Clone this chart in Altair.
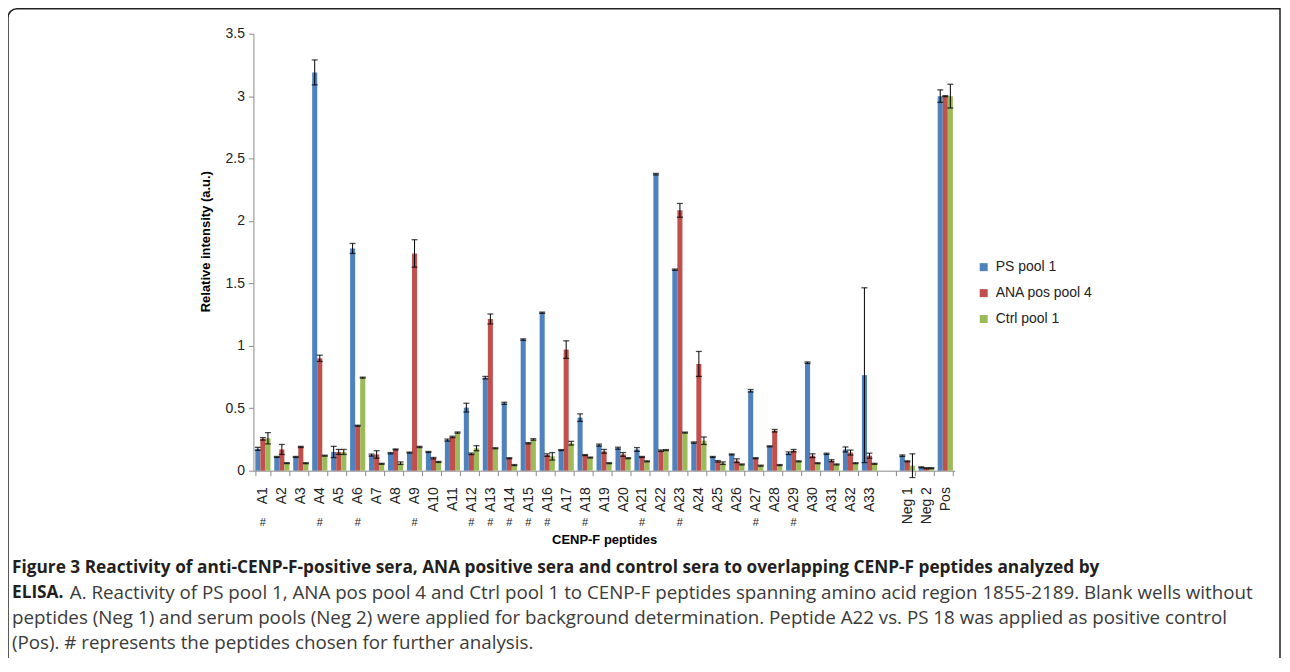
import altair as alt
import pandas as pd

# ---------------- data ----------------
cats = [f"A{i}" for i in range(1, 34)] + ["Neg 1", "Neg 2", "Pos"]
gap_label = " "
domain = cats[:33] + [gap_label] + cats[33:]

series_names = ["PS pool 1", "ANA pos pool 4", "Ctrl pool 1"]
series_colors = ["#4F81BD", "#C0504D", "#9BBB59"]

ps = [0.175, 0.11, 0.11, 3.19, 0.15, 1.78, 0.125, 0.14, 0.145, 0.15, 0.245, 0.505,
      0.745, 0.54, 1.05, 1.265, 0.165, 0.425, 0.205, 0.18, 0.17, 2.375, 1.61, 0.225,
      0.11, 0.13, 0.64, 0.195, 0.14, 0.865, 0.135, 0.17, 0.765, 0.12, 0.027, 3.0]
ps_err = [0.012, 0.004, 0.004, 0.1, 0.045, 0.04, 0.008, 0.005, 0.004, 0.004, 0.008, 0.035,
          0.01, 0.008, 0.006, 0.005, 0.004, 0.03, 0.008, 0.008, 0.015, 0.006, 0.005, 0.005,
          0.004, 0.004, 0.01, 0.004, 0.01, 0.006, 0.005, 0.02, 0.7, 0.006, 0.004, 0.05]

ana = [0.255, 0.17, 0.19, 0.90, 0.15, 0.36, 0.13, 0.17, 1.74, 0.10, 0.27, 0.135,
       1.215, 0.10, 0.22, 0.125, 0.97, 0.125, 0.155, 0.13, 0.11, 0.16, 2.085, 0.855,
       0.075, 0.08, 0.10, 0.32, 0.16, 0.12, 0.08, 0.145, 0.12, 0.075, 0.02, 3.0]
ana_err = [0.01, 0.04, 0.005, 0.025, 0.02, 0.004, 0.03, 0.004, 0.11, 0.006, 0.006, 0.006,
           0.04, 0.004, 0.005, 0.01, 0.07, 0.004, 0.015, 0.015, 0.004, 0.006, 0.055, 0.1,
           0.006, 0.015, 0.004, 0.01, 0.01, 0.015, 0.008, 0.02, 0.02, 0.004, 0.004, 0.004]

ctrl = [0.26, 0.06, 0.06, 0.12, 0.15, 0.745, 0.055, 0.06, 0.19, 0.07, 0.305, 0.18,
        0.18, 0.045, 0.25, 0.115, 0.22, 0.105, 0.06, 0.10, 0.075, 0.165, 0.305, 0.24,
        0.06, 0.05, 0.04, 0.045, 0.075, 0.06, 0.05, 0.06, 0.055, 0.04, 0.02, 3.0]
ctrl_err = [0.045, 0.004, 0.004, 0.004, 0.02, 0.004, 0.004, 0.01, 0.005, 0.004, 0.005, 0.02,
            0.004, 0.004, 0.006, 0.03, 0.015, 0.004, 0.004, 0.004, 0.004, 0.004, 0.004, 0.03,
            0.01, 0.004, 0.004, 0.004, 0.004, 0.004, 0.004, 0.004, 0.004, 0.095, 0.004, 0.095]

hash_cats = ["A1", "A4", "A6", "A9", "A12", "A13", "A14", "A15", "A16", "A18",
             "A21", "A23", "A27", "A29"]

caption_l1 = ("Figure 3 Reactivity of anti-CENP-F-positive sera, ANA positive sera and control "
              "sera to overlapping CENP-F peptides analyzed by")
caption_l2a = "ELISA."
caption_l2b = ("A. Reactivity of PS pool 1, ANA pos pool 4 and Ctrl pool 1 to CENP-F peptides "
               "spanning amino acid region 1855-2189. Blank wells without")
caption_l3 = ("peptides (Neg 1) and serum pools (Neg 2) were applied for background "
              "determination. Peptide A22 vs. PS 18 was applied as positive control")
caption_l4 = "(Pos). # represents the peptides chosen for further analysis."

# ---------------- table ----------------
rows = []
for name, vals, errs in zip(series_names, [ps, ana, ctrl], [ps_err, ana_err, ctrl_err]):
    for c, v, e in zip(cats, vals, errs):
        rows.append({"cat": c, "series": name, "value": v, "lo": v - e, "hi": v + e})
df = pd.DataFrame(rows)
hash_df = pd.DataFrame({"cat": hash_cats, "mark": ["#"] * len(hash_cats)})

W, H = 703, 438
FONT = "Liberation Sans"
CAP_FONT = "Open Sans"
AX_GRAY = "#8c8c8c"

x_scale = alt.Scale(domain=domain, paddingInner=0.2, paddingOuter=0.1)
y_scale = alt.Scale(domain=[0, 3.5], nice=False, zero=True)

x_enc = alt.X(
    "cat:N", scale=x_scale, sort=domain,
    axis=alt.Axis(labelAngle=-90, tickBand="extent", tickSize=5, labelPadding=11,
                  labelFont=FONT, labelFontSize=14, labelColor="#222",
                  domainColor=AX_GRAY, tickColor=AX_GRAY,
                  title="CENP-F peptides", titleFont=FONT, titleFontSize=13,
                  titleFontWeight="bold", titleColor="#000", titleY=69,
                  titleBaseline="middle"))
y_enc = alt.Y(
    "value:Q", scale=y_scale,
    axis=alt.Axis(values=[0, 0.5, 1, 1.5, 2, 2.5, 3, 3.5], format="~g", grid=False,
                  tickSize=5, labelPadding=4, labelFont=FONT, labelFontSize=14,
                  labelColor="#222", domainColor=AX_GRAY, tickColor=AX_GRAY,
                  title="Relative intensity (a.u.)", titleFont=FONT, titleFontSize=13,
                  titleFontWeight="bold", titleColor="#000", titleX=-48, titleY=208,
                  titleBaseline="middle", titleAlign="center"))
xoff = alt.XOffset("series:N", sort=series_names,
                   scale=alt.Scale(paddingInner=0, paddingOuter=0))
color = alt.Color("series:N", sort=series_names,
                  scale=alt.Scale(domain=series_names, range=series_colors),
                  legend=alt.Legend(title=None, orient="none", legendX=725, legendY=227,
                                    symbolType="square", symbolSize=64,
                                    symbolStrokeWidth=0, labelFont=FONT,
                                    labelFontSize=14, labelColor="#222",
                                    rowPadding=12, labelOffset=5))

base = alt.Chart(df)
bars = base.mark_bar().encode(x=x_enc, xOffset=xoff, y=y_enc, color=color)
err_rule = base.mark_rule(color="black", strokeWidth=1).encode(
    x=alt.X("cat:N", scale=x_scale, sort=domain), xOffset=xoff,
    y=alt.Y("lo:Q", scale=y_scale), y2="hi:Q")
cap_lo = base.mark_tick(color="black", thickness=1.3, size=6).encode(
    x=alt.X("cat:N", scale=x_scale, sort=domain), xOffset=xoff,
    y=alt.Y("lo:Q", scale=y_scale))
cap_hi = base.mark_tick(color="black", thickness=1.3, size=6).encode(
    x=alt.X("cat:N", scale=x_scale, sort=domain), xOffset=xoff,
    y=alt.Y("hi:Q", scale=y_scale))

hashes = alt.Chart(hash_df).mark_text(font=FONT, fontSize=11, color="#222",
                                      baseline="middle").encode(
    x=alt.X("cat:N", scale=x_scale, sort=domain), y=alt.value(490), text="mark:N")

one = alt.Data(values=[{}])


def txt(s, x, y, bold=False, color="#231f20", size=19):
    return alt.Chart(one).mark_text(
        font=CAP_FONT, fontSize=size, fontWeight="bold" if bold else "normal",
        align="left", baseline="middle", color=color).encode(
        x=alt.value(x), y=alt.value(y), text=alt.value(s))


cap1 = txt(caption_l1, -242, 536, bold=True, size=17.3)
cap2a = txt(caption_l2a, -242, 561, bold=True, size=17.3)
cap2b = txt(caption_l2b, -184, 561, color="#3a3a3a", size=18.8)
cap3 = txt(caption_l3, -242, 586, color="#3a3a3a", size=18.8)
cap4 = txt(caption_l4, -242, 611, color="#3a3a3a", size=18.8)

frame = alt.Chart(one).mark_rect(fill=None, stroke="#222", strokeWidth=1.5,
                                 cornerRadiusTopLeft=9, cornerRadiusBottomLeft=9,
                                 cornerRadiusBottomRight=9).encode(
    x=alt.value(-246), x2=alt.value(1029), y=alt.value(-25), y2=alt.value(660))

chart = alt.layer(frame, bars, err_rule, cap_lo, cap_hi, hashes,
                  cap1, cap2a, cap2b, cap3, cap4).properties(
    width=W, height=H,
    padding={"left": 246, "top": 25, "right": 328, "bottom": 187},
    autosize=alt.AutoSizeParams(type="none"),
    background="white",
).configure_view(stroke=None)

chart.save("out.html", embed_options={"renderer": "svg", "actions": False})
